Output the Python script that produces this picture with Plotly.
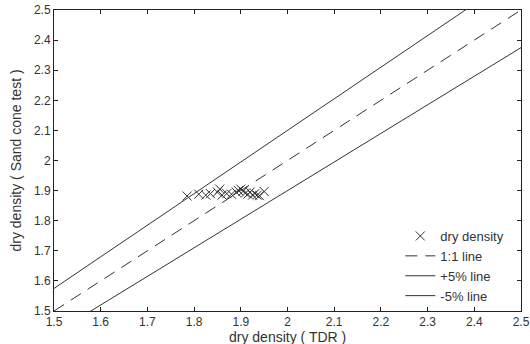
import plotly.graph_objects as go

tdr = [1.785, 1.81, 1.825, 1.835, 1.85, 1.855, 1.86, 1.87, 1.88, 1.89, 1.895,
       1.90, 1.905, 1.91, 1.915, 1.92, 1.925, 1.93, 1.935, 1.94, 1.95]
sand_cone = [1.882, 1.888, 1.885, 1.89, 1.895, 1.905, 1.885, 1.89, 1.888, 1.895, 1.90,
             1.905, 1.898, 1.892, 1.888, 1.895, 1.885, 1.89, 1.885, 1.883, 1.897]

# reference lines
line_x = [1.5, 2.5]
ratio_names = ["1:1 line", "+5% line", "-5% line"]
ratios = [1.0, 1.05, 0.95]
ratio_dash = ["dash", "solid", "solid"]

tick_vals = [1.5, 1.6, 1.7, 1.8, 1.9, 2.0, 2.1, 2.2, 2.3, 2.4, 2.5]
tick_text = ["1.5", "1.6", "1.7", "1.8", "1.9", "2", "2.1", "2.2", "2.3", "2.4", "2.5"]

x_title = "dry density ( TDR )"
y_title = "dry density ( Sand cone test )"

ink = "#333333"
fam = "Liberation Sans, Arial"
fig = go.Figure()
fig.add_trace(go.Scatter(
    x=tdr, y=sand_cone, mode="markers", name="dry density",
    marker=dict(symbol="x-thin-open", size=9, color=ink, line=dict(width=1, color=ink)),
))
for name, r, d in zip(ratio_names, ratios, ratio_dash):
    fig.add_trace(go.Scatter(
        x=line_x, y=[r * v for v in line_x], mode="lines", name=name,
        line=dict(color=ink, width=1, dash="12px,8px" if d == "dash" else d),
    ))

axis_common = dict(
    range=[1.5, 2.5], tickvals=tick_vals, ticktext=tick_text,
    showgrid=False, zeroline=False, showline=True, linecolor="#222222", linewidth=1,
    mirror="ticks", ticks="inside", ticklen=4, tickcolor="#222222",
    tickfont=dict(family=fam, size=12, color=ink), automargin=False,
)
fig.update_xaxes(**axis_common)
fig.update_yaxes(**axis_common)

fig.update_layout(
    width=530, height=344,
    margin=dict(l=54, r=9, t=10, b=33),
    plot_bgcolor="white", paper_bgcolor="white",
    font=dict(family=fam, color=ink),
    legend=dict(x=0.975, y=0.0, xanchor="right", yanchor="bottom",
                bgcolor="rgba(0,0,0,0)", font=dict(size=13, color=ink),
                tracegroupgap=0, itemwidth=30),
    showlegend=True,
    annotations=[
        dict(text=x_title, xref="paper", yref="paper", x=0.5, y=0, yshift=-26,
             xanchor="center", yanchor="middle", showarrow=False,
             font=dict(family=fam, size=14, color=ink)),
        dict(text=y_title, xref="paper", yref="paper", x=0, y=0.5, xshift=-39,
             xanchor="center", yanchor="middle", textangle=-90, showarrow=False,
             font=dict(family=fam, size=14, color=ink)),
    ],
)
fig.write_html(
    "out.html",
    config={"displayModeBar": False},
    post_script="document.body.style.margin='0';document.body.style.overflow='hidden';",
)
